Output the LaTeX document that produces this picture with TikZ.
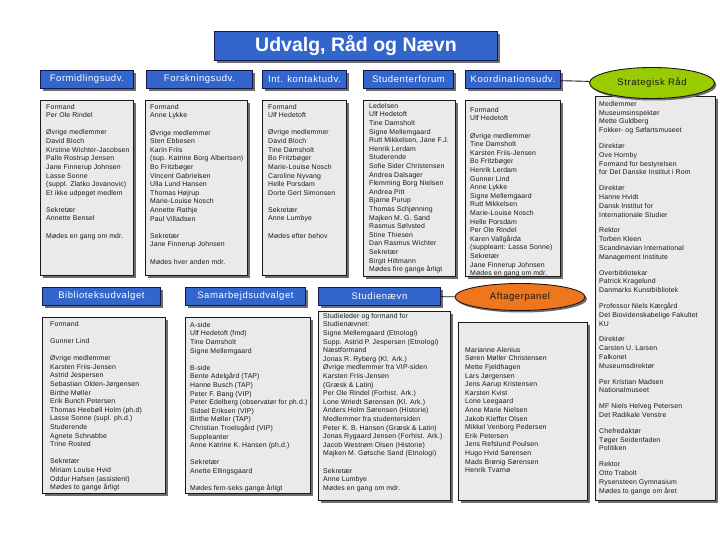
\documentclass[tikz,border=0pt]{standalone}
\usepackage{fontspec}
\setmainfont{Liberation Sans}
\newfontfamily\boxfont[LetterSpace=6]{Liberation Sans}
\newfontfamily\listfont[LetterSpace=2]{Liberation Sans}
\usetikzlibrary{shapes.geometric,shadows}

\begin{document}
\begin{tikzpicture}[x=1pt,y=-1pt,
  head/.style={draw=headline, fill=headblue, text=white, line width=0.9pt,
    minimum height=18, inner sep=0pt, anchor=north west,
    font=\boxfont\fontsize{9.5}{10}\selectfont,
    drop shadow={fill=shade, opacity=1, shadow xshift=2.5pt, shadow yshift=-2.5pt}},
  panel/.style={draw=ink, fill=panelgray, line width=0.8pt, anchor=north west,
    drop shadow={fill=shade, opacity=1, shadow xshift=3pt, shadow yshift=-3pt}},
  members/.style={anchor=north west, align=left, inner sep=0pt, text=ink,
    font=\listfont\fontsize{6.9}{8.6}\selectfont},
  oval/.style={ellipse, draw=ink, line width=0.9pt, inner sep=0pt, text=ink,
    font=\boxfont\fontsize{9.5}{10}\selectfont,
    drop shadow={fill=shade, opacity=1, shadow xshift=2pt, shadow yshift=-2pt}}]
  \definecolor{ink}{RGB}{25,25,25}
  \definecolor{headblue}{RGB}{51,102,204}
  \definecolor{headline}{RGB}{15,25,80}
  \definecolor{panelgray}{RGB}{234,234,234}
  \definecolor{shade}{RGB}{110,110,110}
  \definecolor{leaf}{RGB}{153,204,0}
  \definecolor{amber}{RGB}{238,118,28}

  \useasboundingbox[fill=white] (0,0) rectangle (720,540);

  \node[head, minimum width=283, minimum height=29,
    font=\bfseries\fontsize{19.5}{20}\selectfont] (title) at (214,31) {Udvalg, Råd og Nævn};

  \foreach \name/\label/\x/\y/\w in {
    formHead/Formidlingsudv./40/70/93,
    forsHead/Forskningsudv./146/70/106,
    intHead/{Int. kontaktudv.}/262/70/84,
    studfHead/Studenterforum/363/70/90,
    koordHead/Koordinationsudv./465/70/95,
    bibHead/Biblioteksudvalget/42/287/118,
    samHead/Samarbejdsudvalget/185/287/120,
    studnHead/Studienævn/318/287/122
  } {
    \node[head, minimum width=\w] (\name) at (\x,\y) {\label};
  }

  \foreach \name/\x/\y/\w/\h in {
    formBox/40/100/93/175,
    forsBox/145/100/102/175,
    intBox/262/100/84/175,
    studfBox/363/100/92/176,
    koordBox/465/100/95/176,
    stratBox/595/96/120/404,
    bibBox/42/317/123/176,
    samBox/185/317/125/176,
    studnBox/318/311/132/189,
    aftBox/458/322/129/178
  } {
    \node[panel, minimum width=\w, minimum height=\h] (\name) at (\x,\y) {};
  }

  \node[oval, fill=leaf, minimum width=125, minimum height=31] (stratOval) at (652,83) {Strategisk Råd};
  \node[oval, fill=amber, minimum width=130, minimum height=27] (aftOval) at (520,297) {Aftagerpanel};

  \draw[ink, line width=0.9pt] (koordHead) -- (stratOval);
  \draw[ink, line width=0.9pt] (studnHead) -- (aftOval);

  \node[members] (formText) at ([shift={(6,4)}]formBox.north west) {
    Formand\\Per Ole Rindel\\[8.6pt]
    Øvrige medlemmer\\David Bloch\\Kirstine Wichter-Jacobsen\\Palle Rostrup Jensen\\
    Jane Finnerup Johnsen\\Lasse Sonne\\(suppl. Zlatko Jovanovic)\\Et ikke udpeget medlem\\[8.6pt]
    Sekretær\\Annette Bensel\\[8.6pt]
    Mødes en gang om mdr.};

  \node[members] (forsText) at ([shift={(5,4)}]forsBox.north west) {
    Formand\\Anne Lykke\\[8.6pt]
    Øvrige medlemmer\\Sten Ebbesen\\Karin Friis\\(sup. Katrine Borg Albertsen)\\Bo Fritzbøger\\
    Vincent Gabrielsen\\Ulla Lund Hansen\\Thomas Højrup\\Marie-Louise Nosch\\Annette Rathje\\
    Paul Villadsen\\[8.6pt]
    Sekretær\\Jane Finnerup Johnsen\\[8.6pt]
    Mødes hver anden mdr.};

  \node[members] (intText) at ([shift={(6,4)}]intBox.north west) {
    Formand\\Ulf Hedetoft\\[8.6pt]
    Øvrige medlemmer\\David Bloch\\Tine Damsholt\\Bo Fritzbøger\\Marie-Louise Nosch\\
    Caroline Nyvang\\Helle Porsdam\\Dorte Gert Simonsen\\[8.6pt]
    Sekretær\\Anne Lumbye\\[8.6pt]
    Mødes efter behov};

  \node[members] (studfText) at ([shift={(6,3)}]studfBox.north west) {
    Ledelsen\\Ulf Hedetoft\\Tine Damsholt\\Signe Mellemgaard\\Rutt Mikkelsen, Jane F.J.\\
    Henrik Lerdam\\Studerende\\Sofie Sider Christensen\\Andrea Dalsager\\Flemming Borg Nielsen\\
    Andrea Pitt\\Bjarne Purup\\Thomas Schjønning\\Majken M. G. Sand\\Rasmus Sølvsted\\
    Stine Thiesen\\Dan Rasmus Wichter\\Sekretær\\Birgit Hiltmann\\Mødes fire gange årligt};

  \node[members] (koordText) at ([shift={(5,7)}]koordBox.north west) {
    Formand\\Ulf Hedetoft\\[8.6pt]
    Øvrige medlemmer\\Tine Damsholt\\Karsten Friis-Jensen\\Bo Fritzbøger\\Henrik Lerdam\\
    Gunner Lind\\Anne Lykke\\Signe Mellemgaard\\Rutt Mikkelsen\\Marie-Louise Nosch\\
    Helle Porsdam\\Per Ole Rindel\\Karen Vallgårda\\(suppleant: Lasse Sonne)\\Sekretær\\
    Jane Finnerup Johnsen\\Mødes en gang om mdr.};

  \node[members, font=\listfont\fontsize{6.9}{8.8}\selectfont] (stratText) at ([shift={(4,5)}]stratBox.north west) {
    Medlemmer\\Museumsinspektør\\Mette Guldberg\\Fokker- og Søfartsmuseet\\[7pt]
    Direktør\\Ove Hornby\\Formand for bestyrelsen\\for Det Danske Institut i Rom\\[7pt]
    Direktør\\Hanne Hvidt\\Dansk Institut for\\Internationale Studier\\[7pt]
    Rektor\\Torben Kleen\\Scandinavian International\\Management Institute\\[7pt]
    Overbibliotekar\\Patrick Kragelund\\Danmarks Kunstbibliotek\\[7pt]
    Professor Niels Kærgård\\Det Biovidenskabelige Fakultet\\KU\\[7pt]
    Direktør\\Carsten U. Larsen\\Falkonet\\Museumsdirektør\\[7pt]
    Per Kristian Madsen\\Nationalmuseet\\[7pt]
    MF Niels Helveg Petersen\\Det Radikale Venstre\\[7pt]
    Chefredaktør\\Tøger Seidenfaden\\Politiken\\[7pt]
    Rektor\\Otto Trabolt\\Rysensteen Gymnasium\\Mødes to gange om året};

  \node[members] (bibText) at ([shift={(8,4)}]bibBox.north west) {
    Formand\\[8.6pt]
    Gunner Lind\\[8.6pt]
    Øvrige medlemmer\\Karsten Friis-Jensen\\Astrid Jespersen\\Sebastian Olden-Jørgensen\\
    Birthe Møller\\Erik Bunch Petersen\\Thomas Heebøll Holm (ph.d)\\Lasse Sonne (supl. ph.d.)\\
    Studerende\\Agnete Schnabbe\\Trine Rosted\\[8.6pt]
    Sekretær\\Miriam Louise Hvid\\Oddur Hafsen (assistent)\\Mødes to gange årligt};

  \node[members] (samText) at ([shift={(5,5)}]samBox.north west) {
    A-side\\Ulf Hedetoft (fmd)\\Tine Damsholt\\Signe Mellemgaard\\[8.6pt]
    B-side\\Bente Adelgård (TAP)\\Hanne Busch (TAP)\\Peter F. Bang (VIP)\\
    Peter Edelberg (observatør for ph.d.)\\Sidsel Eriksen (VIP)\\Birthe Møller (TAP)\\
    Christian Troelsgård (VIP)\\Suppleanter\\Anne Katrine K. Hansen (ph.d.)\\[8.6pt]
    Sekretær\\Anette Ellingsgaard\\[8.6pt]
    Mødes fem-seks gange årligt};

  \node[members] (studnText) at ([shift={(5,2)}]studnBox.north west) {
    Studieleder og formand for\\Studienævnet:\\Signe Mellemgaard (Etnologi)\\
    Supp. Astrid P. Jespersen (Etnologi)\\Næstformand\\Jonas R. Ryberg (Kl. Ark.)\\
    Øvrige medlemmer fra VIP-siden\\Karsten Friis-Jensen\\(Græsk \& Latin)\\
    Per Ole Rindel (Forhist. Ark.)\\Lone Wriedt Sørensen (Kl. Ark.)\\Anders Holm Sørensen (Historie)\\
    Medlemmer fra studentersiden\\Peter K. B. Hansen (Græsk \& Latin)\\
    Jonas Rygaard Jensen (Forhist. Ark.)\\Jacob Westrøm Olsen (Historie)\\
    Majken M. Gøtsche Sand (Etnologi)\\[8.6pt]
    Sekretær\\Anne Lumbye\\Mødes en gang om mdr.};

  \node[members] (aftText) at ([shift={(7,25)}]aftBox.north west) {
    Marianne Alenius\\Søren Møller Christensen\\Mette Fjeldhagen\\Lars Jørgensen\\
    Jens Aarup Kristensen\\Karsten Kvist\\Lone Leegaard\\Anne Marie Nielsen\\
    Jakob Kieffer Olsen\\Mikkel Venborg Pedersen\\Erik Petersen\\Jens Refslund Poulsen\\
    Hugo Hvid Sørensen\\Mads Brønig Sørensen\\Henrik Tvarnø};
\end{tikzpicture}
\end{document}
